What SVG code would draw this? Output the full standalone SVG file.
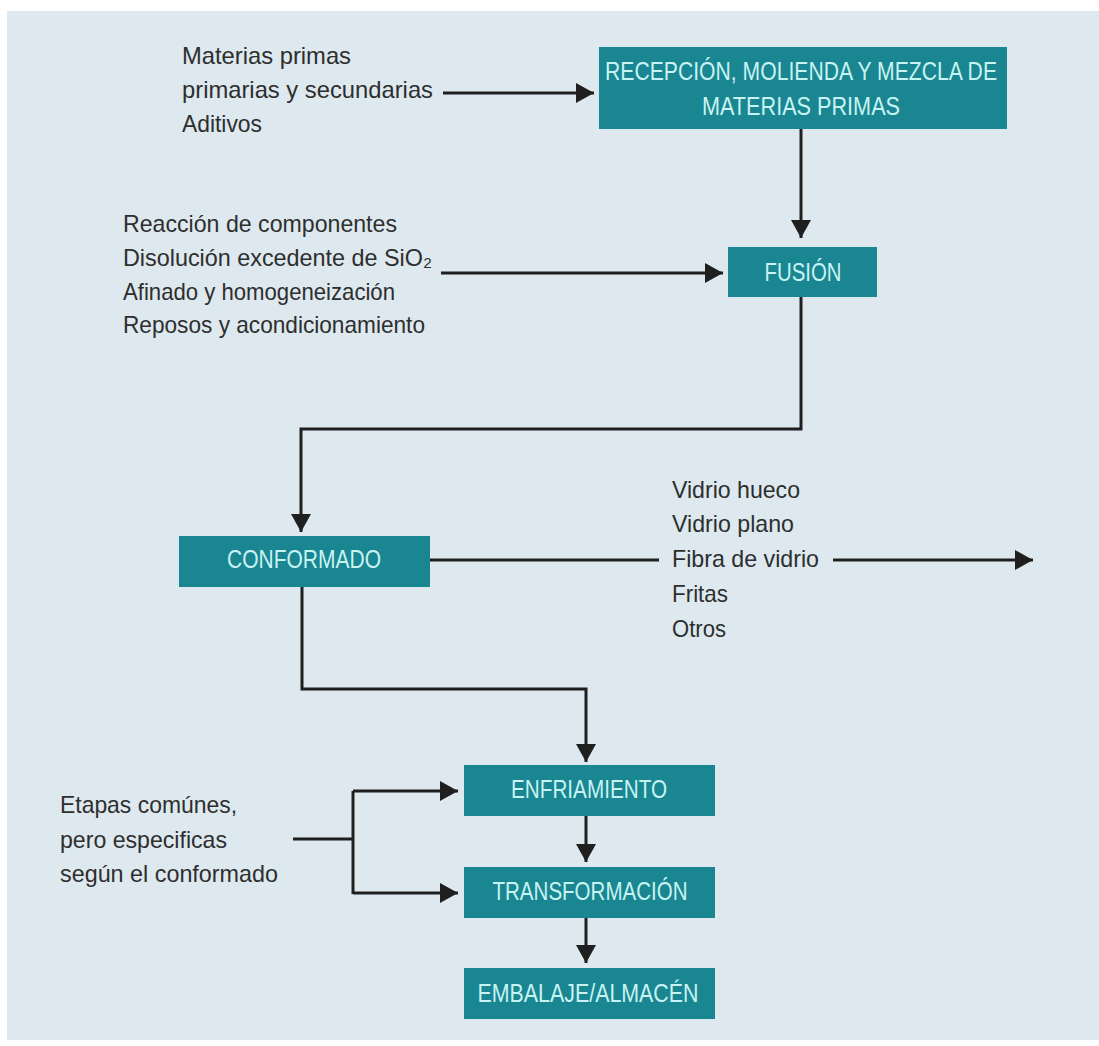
<svg xmlns="http://www.w3.org/2000/svg" width="1099" height="1046" viewBox="0 0 1099 1046">
<defs>
<style>
.bg{fill:#dde9ef}
.box{fill:#1a8691}
.bt{font-family:"Liberation Sans",Arial,sans-serif;font-size:26px;fill:#c8f3f3;text-anchor:middle}
.tx{font-family:"Liberation Sans",Arial,sans-serif;font-size:24px;fill:#2e2e2e}
.ln{fill:none;stroke:#1f1f1f;stroke-width:3}
</style>
<marker id="ah" viewBox="0 0 18 20" refX="18" refY="10" markerWidth="18" markerHeight="20" markerUnits="userSpaceOnUse" orient="auto">
<path d="M0,0 L18,10 L0,20 Z" fill="#1f1f1f"/>
</marker>
</defs>
<rect x="0" y="0" width="1099" height="1046" fill="#ffffff"/>
<rect class="bg" x="7" y="11" width="1092" height="1029"/>

<g id="connectors">
<path class="ln" d="M443,93 H594" marker-end="url(#ah)"/>
<path class="ln" d="M801,129 V238" marker-end="url(#ah)"/>
<path class="ln" d="M441,273 H723" marker-end="url(#ah)"/>
<path class="ln" d="M801,297 V429 H301 V532" marker-end="url(#ah)"/>
<path class="ln" d="M430,560 H659"/>
<path class="ln" d="M833,560 H1033" marker-end="url(#ah)"/>
<path class="ln" d="M302,587 V689 H586 V762" marker-end="url(#ah)"/>
<path class="ln" d="M586,816 V862" marker-end="url(#ah)"/>
<path class="ln" d="M586,918 V963" marker-end="url(#ah)"/>
<path class="ln" d="M293,839 H353"/>
<path class="ln" d="M353,791 V894"/>
<path class="ln" d="M353,791 H458" marker-end="url(#ah)"/>
<path class="ln" d="M353,893 H458" marker-end="url(#ah)"/>
</g>

<g id="recepcion">
<rect class="box" x="599" y="47" width="408" height="82"/>
<text class="bt" x="801" y="80" textLength="392" lengthAdjust="spacingAndGlyphs">RECEPCIÓN, MOLIENDA Y MEZCLA DE</text>
<text class="bt" x="801" y="115" textLength="198" lengthAdjust="spacingAndGlyphs">MATERIAS PRIMAS</text>
</g>

<g id="fusion">
<rect class="box" x="728" y="247" width="149" height="50"/>
<text class="bt" x="803" y="281" textLength="77" lengthAdjust="spacingAndGlyphs">FUSIÓN</text>
</g>

<g id="conformado">
<rect class="box" x="179" y="536" width="251" height="51"/>
<text class="bt" x="304" y="568" textLength="154" lengthAdjust="spacingAndGlyphs">CONFORMADO</text>
</g>

<g id="enfriamiento">
<rect class="box" x="464" y="765" width="251" height="51"/>
<text class="bt" x="589" y="798" textLength="156" lengthAdjust="spacingAndGlyphs">ENFRIAMIENTO</text>
</g>

<g id="transformacion">
<rect class="box" x="464" y="867" width="251" height="51"/>
<text class="bt" x="590" y="900" textLength="195" lengthAdjust="spacingAndGlyphs">TRANSFORMACIÓN</text>
</g>

<g id="embalaje">
<rect class="box" x="464" y="968" width="251" height="51"/>
<text class="bt" x="588" y="1002" textLength="221" lengthAdjust="spacingAndGlyphs">EMBALAJE/ALMACÉN</text>
</g>

<g id="materias">
<text class="tx" x="182" y="64" textLength="169" lengthAdjust="spacingAndGlyphs">Materias primas</text>
<text class="tx" x="182" y="98" textLength="251" lengthAdjust="spacingAndGlyphs">primarias y secundarias</text>
<text class="tx" x="182" y="132" textLength="80" lengthAdjust="spacingAndGlyphs">Aditivos</text>
</g>

<g id="procesos-fusion">
<text class="tx" x="123" y="232" textLength="274" lengthAdjust="spacingAndGlyphs">Reacción de componentes</text>
<text class="tx" x="123" y="266" textLength="309" lengthAdjust="spacingAndGlyphs">Disolución excedente de SiO₂</text>
<text class="tx" x="123" y="300" textLength="272" lengthAdjust="spacingAndGlyphs">Afinado y homogeneización</text>
<text class="tx" x="123" y="333" textLength="302" lengthAdjust="spacingAndGlyphs">Reposos y acondicionamiento</text>
</g>

<g id="productos">
<text class="tx" x="672" y="498" textLength="128" lengthAdjust="spacingAndGlyphs">Vidrio hueco</text>
<text class="tx" x="672" y="532" textLength="122" lengthAdjust="spacingAndGlyphs">Vidrio plano</text>
<text class="tx" x="672" y="567" textLength="147" lengthAdjust="spacingAndGlyphs">Fibra de vidrio</text>
<text class="tx" x="672" y="602" textLength="56" lengthAdjust="spacingAndGlyphs">Fritas</text>
<text class="tx" x="672" y="637" textLength="54" lengthAdjust="spacingAndGlyphs">Otros</text>
</g>

<g id="etapas">
<text class="tx" x="60" y="813" textLength="177" lengthAdjust="spacingAndGlyphs">Etapas comúnes,</text>
<text class="tx" x="60" y="848" textLength="167" lengthAdjust="spacingAndGlyphs">pero especificas</text>
<text class="tx" x="60" y="882" textLength="218" lengthAdjust="spacingAndGlyphs">según el conformado</text>
</g>
</svg>
